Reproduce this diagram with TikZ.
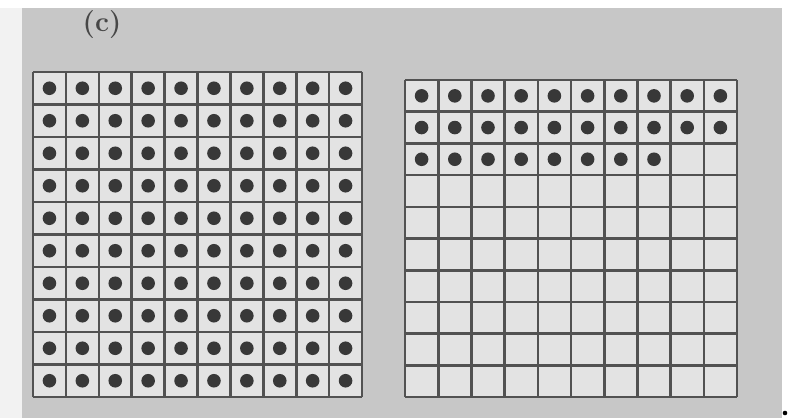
\documentclass[tikz,border=0pt]{standalone}
\begin{document}
\begin{tikzpicture}[x=1pt,y=-1pt,
  gridline/.style={draw=black!68,line width=2.6pt},
  dotmark/.style={fill=black!78}]
\useasboundingbox (0,0) rectangle (788,418);
\fill[black!5] (0,0) rectangle (788,418);
\fill[black!22] (22,0) rectangle (782,418);
\fill[white] (0,0) rectangle (788,8);
\fill[white] (782,0) rectangle (788,418);
% label
\node[text=black!72,font=\fontsize{28}{30}\selectfont\bfseries,inner sep=0pt,anchor=north] (lab) at (102,10) {(c)};
% left grid
\def\lx{33}\def\ly{72}\def\lw{32.9}\def\lh{32.5}
\fill[black!11] (\lx,\ly) rectangle ({\lx+10*\lw},{\ly+10*\lh});
\foreach \i in {0,...,10}{
  \draw[gridline] ({\lx+\i*\lw},\ly) -- ({\lx+\i*\lw},{\ly+10*\lh});
  \draw[gridline] (\lx,{\ly+\i*\lh}) -- ({\lx+10*\lw},{\ly+\i*\lh});
}
\foreach \r in {0,...,9}{
  \foreach \c in {0,...,9}{
    \fill[dotmark] ({\lx+(\c+0.5)*\lw},{\ly+(\r+0.5)*\lh}) circle (6.8);
  }
}
% right grid
\def\rx{405}\def\ry{80}\def\rw{33.2}\def\rh{31.7}
\fill[black!11] (\rx,\ry) rectangle ({\rx+10*\rw},{\ry+10*\rh});
\foreach \i in {0,...,10}{
  \draw[gridline] ({\rx+\i*\rw},\ry) -- ({\rx+\i*\rw},{\ry+10*\rh});
  \draw[gridline] (\rx,{\ry+\i*\rh}) -- ({\rx+10*\rw},{\ry+\i*\rh});
}
\foreach \r/\n in {0/9,1/9,2/7}{
  \foreach \c in {0,...,\n}{
    \fill[dotmark] ({\rx+(\c+0.5)*\rw},{\ry+(\r+0.5)*\rh}) circle (6.8);
  }
}
% final period
\fill[black] (785,413) circle (2.3);
\end{tikzpicture}
\end{document}
